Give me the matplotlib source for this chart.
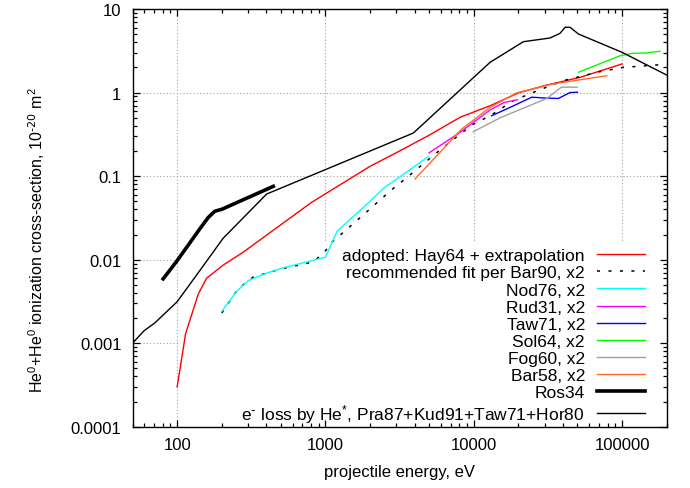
import matplotlib
matplotlib.use("Agg")
import matplotlib.pyplot as plt
from matplotlib.patches import Rectangle
from matplotlib.ticker import LogLocator, NullFormatter

plt.rcParams['font.family'] = ['Liberation Sans', 'DejaVu Sans']
plt.rcParams['mathtext.default'] = 'regular'
plt.rcParams['font.size'] = 12

# ---- data ----
adopted_x = [100, 114, 139, 158, 204, 279, 807, 2000, 3180, 4940, 8090, 12900, 20000, 31100, 52100, 100000]
adopted_y = [0.0003, 0.0013, 0.0039, 0.006, 0.0086, 0.0123, 0.0486, 0.131, 0.201, 0.305, 0.506, 0.696, 0.99, 1.23, 1.52, 2.2]

bar90_x = [200, 215, 258, 326, 493, 807, 966, 1100, 1580, 2720, 3620, 5930, 9700, 12900, 18500, 25000, 40300, 71100, 102000, 172000, 200000]
bar90_y = [0.0023, 0.0028, 0.0045, 0.0062, 0.0077, 0.0093, 0.0117, 0.0161, 0.028, 0.066, 0.0996, 0.206, 0.409, 0.528, 0.80, 1.0, 1.39, 1.78, 2.0, 2.14, 2.15]

nod76_x = [200, 249, 301, 401, 506, 1000, 1200, 1900, 2520, 3100, 4940]
nod76_y = [0.0024, 0.0041, 0.0056, 0.0069, 0.0079, 0.0107, 0.022, 0.046, 0.074, 0.095, 0.171]

rud31_x = [5000, 8000, 12900, 16000, 19700]
rud31_y = [0.19, 0.33, 0.62, 0.76, 0.82]

taw71_x = [13200, 17600, 24600, 30500, 37200, 44600, 50000]
taw71_y = [0.528, 0.665, 0.88, 0.86, 0.85, 1.0, 1.01]

sol64_x = [50800, 97000, 118000, 143000, 180000]
sol64_y = [1.75, 2.76, 2.95, 2.97, 3.12]

fog60_x = [9930, 15100, 31100, 39000, 50000]
fog60_y = [0.34, 0.50, 0.85, 1.16, 1.16]

bar58_x = [4020, 8300, 12900, 19400, 34400, 78900]
bar58_y = [0.0925, 0.366, 0.665, 0.99, 1.27, 1.59]

ros34_x = [80.5, 99, 142, 162, 179.5, 199.5, 445]
ros34_y = [0.0059, 0.0095, 0.0233, 0.032, 0.038, 0.040, 0.0755]

eloss_x = [50, 59.8, 70.7, 100, 147.5, 204, 401, 3917, 12880, 21600, 32700, 38200, 41300, 44600, 50800, 100000, 200000]
eloss_y = [0.001, 0.00141, 0.00175, 0.00314, 0.0081, 0.018, 0.061, 0.328, 2.30, 4.06, 4.50, 5.12, 6.04, 6.04, 5.02, 3.03, 1.62]

x_ticks = [100, 1000, 10000, 100000]
x_ticklabels = ['100', '1000', '10000', '100000']
y_ticks = [0.0001, 0.001, 0.01, 0.1, 1, 10]
y_ticklabels = ['0.0001', '0.001', '0.01', '0.1', '1', '10']

# ---- figure ----
fig = plt.figure(figsize=(6.9, 4.89), dpi=100)
ax = fig.add_axes([132.5/690, 1-427.8/489, (666.7-132.5)/690, (427.8-10)/489])
ax.set_xscale('log')
ax.set_yscale('log')
ax.set_xlim(50, 200000)
ax.set_ylim(0.0001, 10)

# grid (below key box)
for v in x_ticks:
    ax.axvline(v, color='#a0a0a0', lw=0.8, ls=(0, (1, 2)), zorder=0.5)
for v in y_ticks:
    ax.axhline(v, color='#a0a0a0', lw=0.8, ls=(0, (1, 2)), zorder=0.5)
# opaque key area
ax.add_patch(Rectangle((0.087, 0.0), 0.913, 0.44, transform=ax.transAxes,
                       facecolor='white', edgecolor='none', zorder=0.8))

lw = 1.0
ax.plot(adopted_x, adopted_y, color='#ff0000', lw=lw, label='adopted: Hay64 + extrapolation', zorder=3)
ax.plot(bar90_x, bar90_y, color='black', lw=1.1, ls=(0, (2, 5.5)), label='recommended fit per Bar90, x2', zorder=3)
ax.plot(nod76_x, nod76_y, color='#00ffff', lw=lw, label='Nod76, x2', zorder=3)
ax.plot(rud31_x, rud31_y, color='#ff00ff', lw=lw, label='Rud31, x2', zorder=3)
ax.plot(taw71_x, taw71_y, color='#0000ff', lw=lw, label='Taw71, x2', zorder=3)
ax.plot(sol64_x, sol64_y, color='#00ff00', lw=lw, label='Sol64, x2', zorder=3)
ax.plot(fog60_x, fog60_y, color='#a0a0a0', lw=lw, label='Fog60, x2', zorder=3)
ax.plot(bar58_x, bar58_y, color='#ff6a2a', lw=lw, label='Bar58, x2', zorder=3)
ax.plot(ros34_x, ros34_y, color='black', lw=2.6, label='Ros34', zorder=3)
ax.plot(eloss_x, eloss_y, color='black', lw=lw,
        label=r'e$^{\text{-}}$ loss by He$^{*}$, Pra87+Kud91+Taw71+Hor80', zorder=3)

ax.set_xticks(x_ticks)
ax.set_xticklabels(x_ticklabels)
ax.set_yticks(y_ticks)
ax.set_yticklabels(y_ticklabels)
ax.xaxis.set_minor_locator(LogLocator(base=10, subs=range(2, 10), numticks=20))
ax.yaxis.set_minor_locator(LogLocator(base=10, subs=range(2, 10), numticks=20))
ax.xaxis.set_minor_formatter(NullFormatter())
ax.yaxis.set_minor_formatter(NullFormatter())
ax.tick_params(which='both', direction='in', top=True, right=True, color='black', zorder=4)
ax.tick_params(which='major', length=5, width=0.9, labelsize=12)
ax.tick_params(axis='x', which='major', pad=7)
ax.tick_params(axis='y', which='major', pad=8)
ax.tick_params(which='minor', length=2.8, width=0.9)
for s in ax.spines.values():
    s.set_linewidth(1.0)
    s.set_zorder(5)

ax.set_xlabel('projectile energy, eV', fontsize=12)
ax.set_ylabel(r'He$^0$+He$^0$ ionization cross-section, 10$^{\text{-20}}$ m$^2$', fontsize=11.5)
ax.xaxis.set_label_coords(0.5, -0.088)
ax.yaxis.set_label_coords(-0.160, 0.449)

leg = ax.legend(loc='lower right', bbox_to_anchor=(0.959, 0.005), frameon=False,
                markerfirst=False, alignment='right', handlelength=2.75,
                handletextpad=0.7, labelspacing=0.11, borderpad=0, borderaxespad=0,
                fontsize=12.5)
leg.set_zorder(6)

fig.savefig('out.png', dpi=100)
